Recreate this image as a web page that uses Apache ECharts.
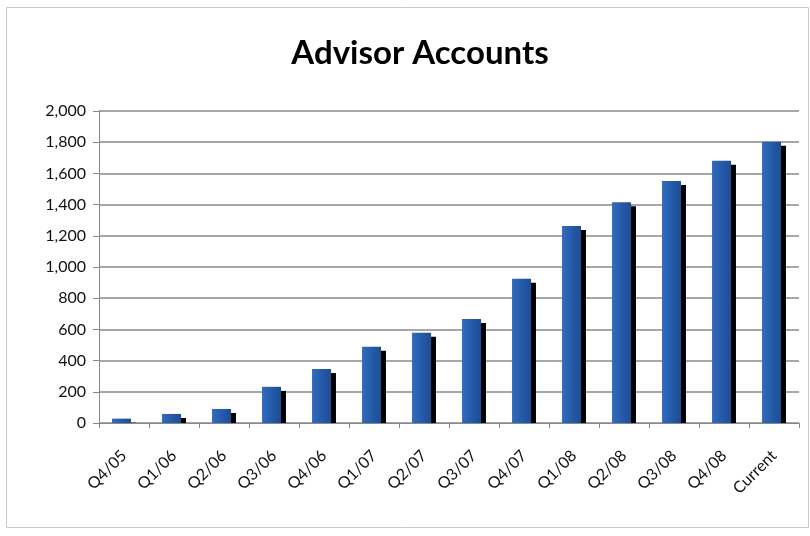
<!DOCTYPE html>
<html><head><meta charset="utf-8">
<script src="https://cdn.jsdelivr.net/npm/echarts@6/dist/echarts.min.js"></script>
<style>html,body{margin:0;padding:0;background:#fff}#c{width:810px;height:536px}</style>
</head><body><div id="c"></div>
<script>
const categories = ['Q4/05','Q1/06','Q2/06','Q3/06','Q4/06','Q1/07','Q2/07','Q3/07','Q4/07','Q1/08','Q2/08','Q3/08','Q4/08','Current'];
const accounts = [28, 58, 90, 232, 346, 489, 579, 667, 925, 1263, 1415, 1552, 1681, 1803];
const yTicks = [0, 200, 400, 600, 800, 1000, 1200, 1400, 1600, 1800, 2000];
const shadowDrop = 26;
const shadowVals = accounts.map(v => Math.max(v - shadowDrop, 0));
const FONT = 'Lato, "Open Sans", sans-serif';
const chart = echarts.init(document.getElementById('c'));
chart.setOption({
  animation: false,
  title: { text: 'Advisor Accounts', left: 415, top: 32, textAlign: 'center',
    textStyle: { fontFamily: FONT, fontWeight: 'bold', fontSize: 33, color: '#000' } },
  graphic: [{ type: 'rect', shape: { x: 6.5, y: 7.5, width: 802, height: 520 },
    style: { fill: 'none', stroke: '#c8c8c8', lineWidth: 1 }, z: -1 }],
  grid: { left: 99, right: 11, top: 111, bottom: 113 },
  xAxis: { type: 'category', data: categories,
    axisLine: { lineStyle: { color: '#888', width: 1 } },
    axisTick: { show: true, length: 5, lineStyle: { color: '#888' } },
    axisLabel: { rotate: 45, fontFamily: FONT, fontSize: 16, color: '#111', margin: 30 } },
  yAxis: { type: 'value', min: 0, max: 2000, interval: 200,
    axisLine: { show: true, lineStyle: { color: '#888' } },
    axisTick: { show: true, length: 6, lineStyle: { color: '#888' } },
    splitLine: { lineStyle: { color: '#8a8a8a', width: 1.5 } },
    axisLabel: { fontFamily: FONT, fontSize: 16, color: '#111', margin: 13,
      formatter: v => yTicks.includes(v) ? v.toLocaleString('en-US') : '' } },
  series: [
    { type: 'bar', data: accounts, barWidth: 19, barGap: '-74%', z: 3,
      itemStyle: { color: new echarts.graphic.LinearGradient(0,0,1,0,[
        {offset:0,color:'#336bbd'},{offset:0.5,color:'#255baa'},{offset:1,color:'#1f4c92'}]) } },
    { type: 'bar', data: shadowVals, barWidth: 19, z: 2,
      itemStyle: { color: '#000' } }
  ]
});
</script></body></html>
